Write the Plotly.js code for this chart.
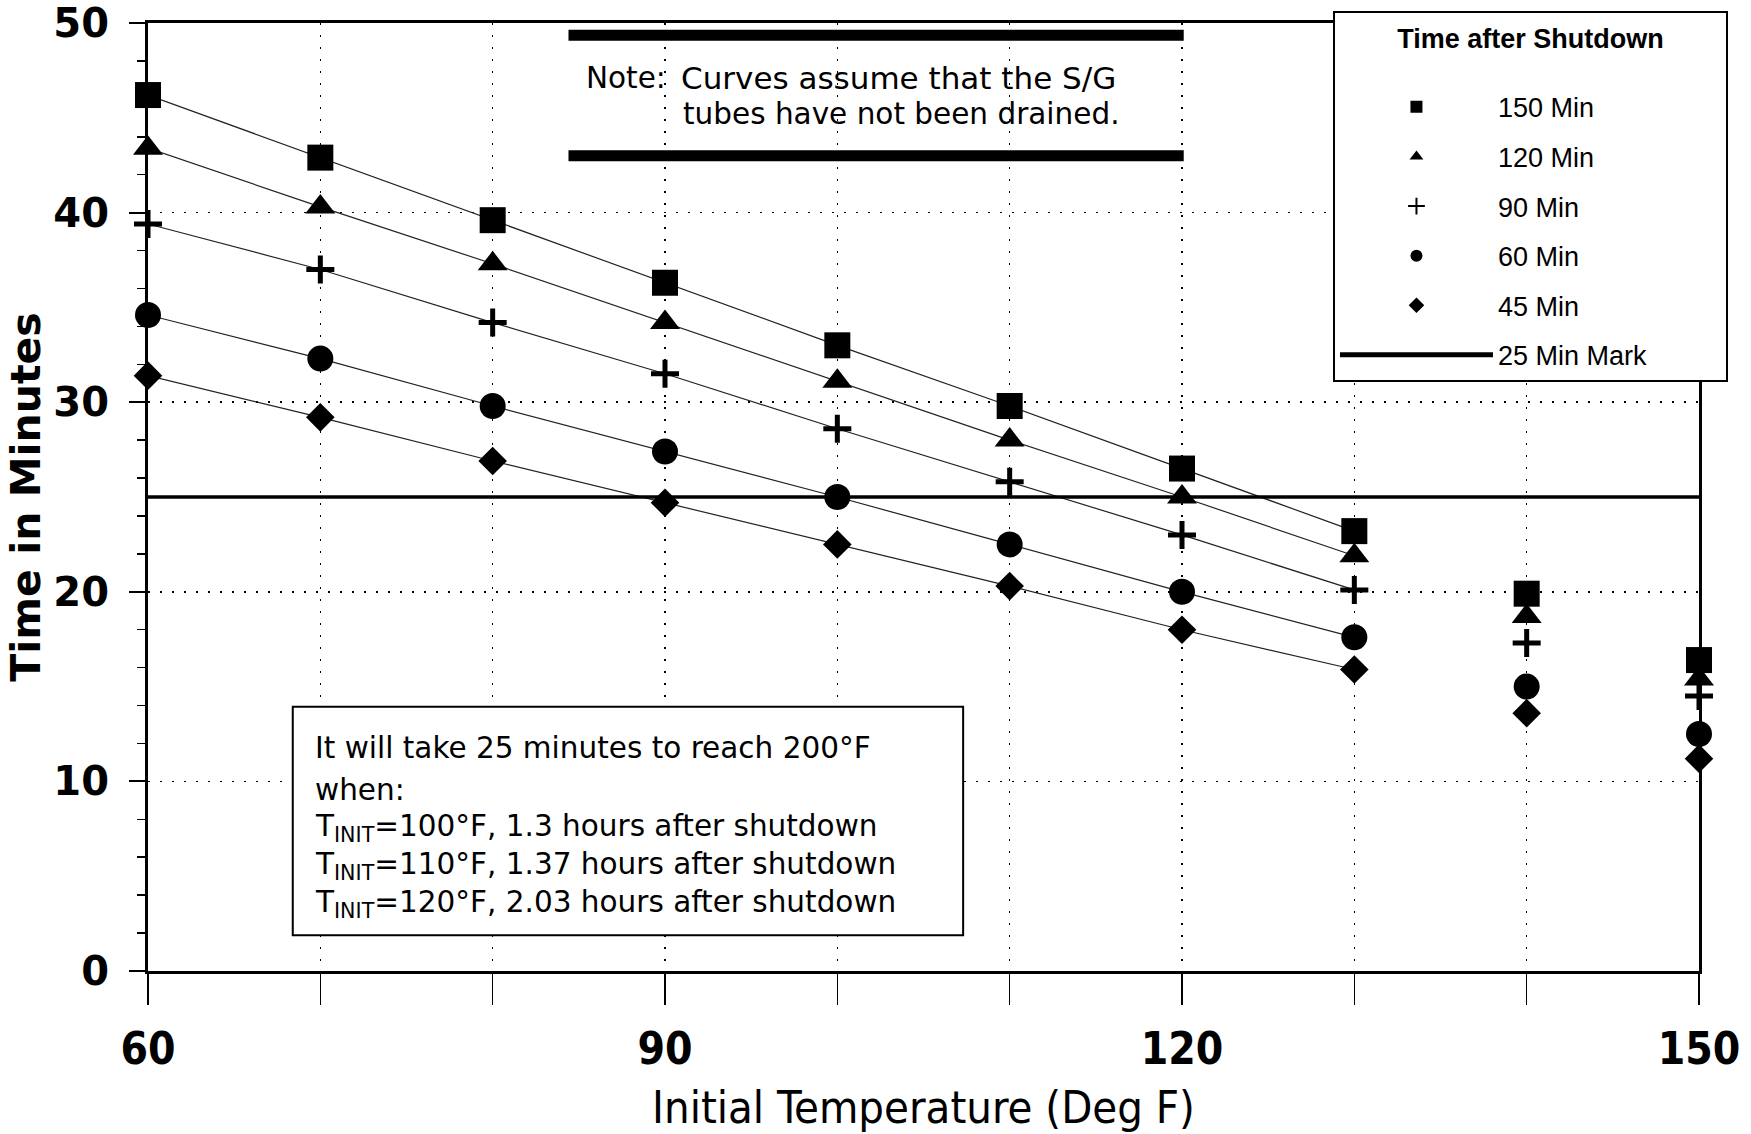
<!DOCTYPE html>
<html><head><meta charset="utf-8">
<script src="https://cdn.plot.ly/plotly-3.0.1.min.js"></script>
<style>html,body{margin:0;padding:0;background:#fff}#chart{width:1751px;height:1134px}</style>
</head><body><div id="chart"></div>
<script>
// ---- data ----
const temps = [60, 70, 80, 90, 100, 110, 120, 130, 140, 150];
const min150 = [46.2, 42.9, 39.6, 36.3, 33.0, 29.8, 26.5, 23.2, 19.9, 16.4];
const min120 = [43.4, 40.3, 37.3, 34.2, 31.1, 28.0, 25.0, 21.9, 18.7, 15.4];
const min90  = [39.4, 37.0, 34.2, 31.5, 28.6, 25.8, 23.0, 20.1, 17.3, 14.5];
const min60  = [34.6, 32.3, 29.8, 27.4, 25.0, 22.5, 20.0, 17.6, 15.0, 12.5];
const min45  = [31.4, 29.2, 26.9, 24.7, 22.5, 20.3, 18.0, 15.9, 13.6, 11.2];
const seriesNames = ['150 Min', '120 Min', '90 Min', '60 Min', '45 Min'];
const markName = '25 Min Mark';
const markX = [60, 150];
const markY = [25, 25];
const xTickText = ['60', '', '', '90', '', '', '120', '', '', '150'];
const yTickVals = [0, 10, 20, 30, 40, 50];
const linePointCount = 8; // connecting lines run through 60..130 F

const allSeries = [min150, min120, min90, min60, min45];
const symbols = ['square', 'triangle-up', 'cross-thin-open', 'circle', 'diamond'];
const sizes = [26, 26, 20, 26, 22];

const condensed = 'Liberation Sans Narrow, DejaVu Sans Condensed, Liberation Sans, sans-serif';

const traces = [];
allSeries.forEach((ys, i) => {
  traces.push({
    x: temps.slice(0, linePointCount), y: ys.slice(0, linePointCount),
    mode: 'lines', line: {color: '#222', width: 1.2},
    showlegend: false, hoverinfo: 'skip', cliponaxis: false
  });
});
allSeries.forEach((ys, i) => {
  traces.push({
    x: temps, y: ys, name: seriesNames[i], legendgroup: 'g' + i,
    mode: 'markers', cliponaxis: false,
    marker: {symbol: symbols[i], size: sizes[i], color: '#000',
             line: {color: '#000', width: symbols[i] === 'cross-thin-open' ? 5 : 0}}
  });
});
traces.push({
  x: markX, y: markY, name: markName, legendgroup: 'g5',
  mode: 'lines', line: {color: '#000', width: 3.5}, cliponaxis: false
});

const boxFont = {family: 'DejaVu Sans', size: 29.5, color: '#000'};
const boxLines = [
  ['It will take 25 minutes to reach 200°F', 11.76],
  ['when:', 9.53],
  ['T<sub>INIT</sub>=100°F, 1.3 hours after shutdown', 7.53],
  ['T<sub>INIT</sub>=110°F, 1.37 hours after shutdown', 5.53],
  ['T<sub>INIT</sub>=120°F, 2.03 hours after shutdown', 3.53]
];
const annotations = boxLines.map(([t, yv]) => ({
  text: t, x: 69.6, y: yv, xref: 'x', yref: 'y', xanchor: 'left', yanchor: 'middle',
  showarrow: false, font: boxFont, align: 'left'
}));
annotations.push({text: 'Note:', x: 85.3, y: 47.1, xref: 'x', yref: 'y',
  xanchor: 'left', yanchor: 'middle', showarrow: false, font: boxFont});
annotations.push({text: 'Curves assume that the S/G', x: 90.8, y: 47.1, xref: 'x', yref: 'y',
  xanchor: 'left', yanchor: 'middle', showarrow: false, font: {family: 'DejaVu Sans', size: 31, color: '#000'}});
annotations.push({text: 'tubes have not been drained.', x: 90.95, y: 45.2, xref: 'x', yref: 'y',
  xanchor: 'left', yanchor: 'middle', showarrow: false, font: boxFont});

const shapes = [
  {type: 'line', xref: 'x', yref: 'y', x0: 84.4, x1: 120.1, y0: 49.35, y1: 49.35, line: {color: '#000', width: 11}},
  {type: 'line', xref: 'x', yref: 'y', x0: 84.4, x1: 120.1, y0: 43.0, y1: 43.0, line: {color: '#000', width: 11}},
  {type: 'rect', xref: 'x', yref: 'y', x0: 68.4, x1: 107.3, y0: 1.88, y1: 13.94, layer: 'above',
   line: {color: '#000', width: 2}, fillcolor: '#fff'}
];

const pad = '\u00a0'.repeat(8);
const gridDash = '2px,10px';
const layout = {
  width: 1751, height: 1134,
  paper_bgcolor: '#fff', plot_bgcolor: '#fff',
  margin: {l: 148, r: 52, t: 22, b: 163},
  showlegend: true,
  legend: {
    x: 0.764, y: 1.012, xanchor: 'left', yanchor: 'top',
    bgcolor: '#fff', bordercolor: '#000', borderwidth: 2,
    font: {family: 'Liberation Sans', size: 27, color: '#000'},
    title: {text: pad + 'Time after Shutdown' + pad + '<br>\u00a0', side: 'top center',
            font: {family: 'Liberation Sans', size: 27, weight: 'bold', color: '#000'}},
    itemsizing: 'constant', itemwidth: 153, tracegroupgap: 11.5
  },
  xaxis: {
    range: [60, 150], tickmode: 'array', tickvals: temps, ticktext: xTickText,
    ticks: 'outside', ticklen: 31, tickwidth: 1.5, tickcolor: '#000',
    showgrid: true, gridcolor: '#000', gridwidth: 1.5, griddash: gridDash,
    showline: true, linewidth: 3, linecolor: '#000', mirror: true, zeroline: false,
    tickfont: {family: condensed, size: 44, weight: 'bold', color: '#000'},
    ticklabelstandoff: 6, ticklabeloverflow: 'allow',
    title: {text: 'Initial Temperature (Deg F)', standoff: 20,
            font: {family: condensed, size: 45, color: '#000'}}
  },
  yaxis: {
    range: [0, 50], tickmode: 'array', tickvals: yTickVals,
    ticks: 'outside', ticklen: 16, tickwidth: 2, tickcolor: '#000',
    minor: {dtick: 2, ticks: 'outside', ticklen: 8, tickwidth: 1.5, tickcolor: '#000', showgrid: false},
    showgrid: true, gridcolor: '#000', gridwidth: 1.5, griddash: gridDash,
    showline: true, linewidth: 3, linecolor: '#000', mirror: true, zeroline: false,
    tickfont: {family: 'DejaVu Sans', size: 40, weight: 'bold', color: '#000'},
    ticklabelstandoff: 12, ticklabeloverflow: 'allow',
    title: {text: 'Time in Minutes', standoff: 0,
            font: {family: 'DejaVu Sans', size: 41, weight: 'bold', color: '#000'}}
  },
  shapes: shapes,
  annotations: annotations
};

Plotly.newPlot('chart', traces, layout, {staticPlot: true, displayModeBar: false});
</script>
</body></html>
